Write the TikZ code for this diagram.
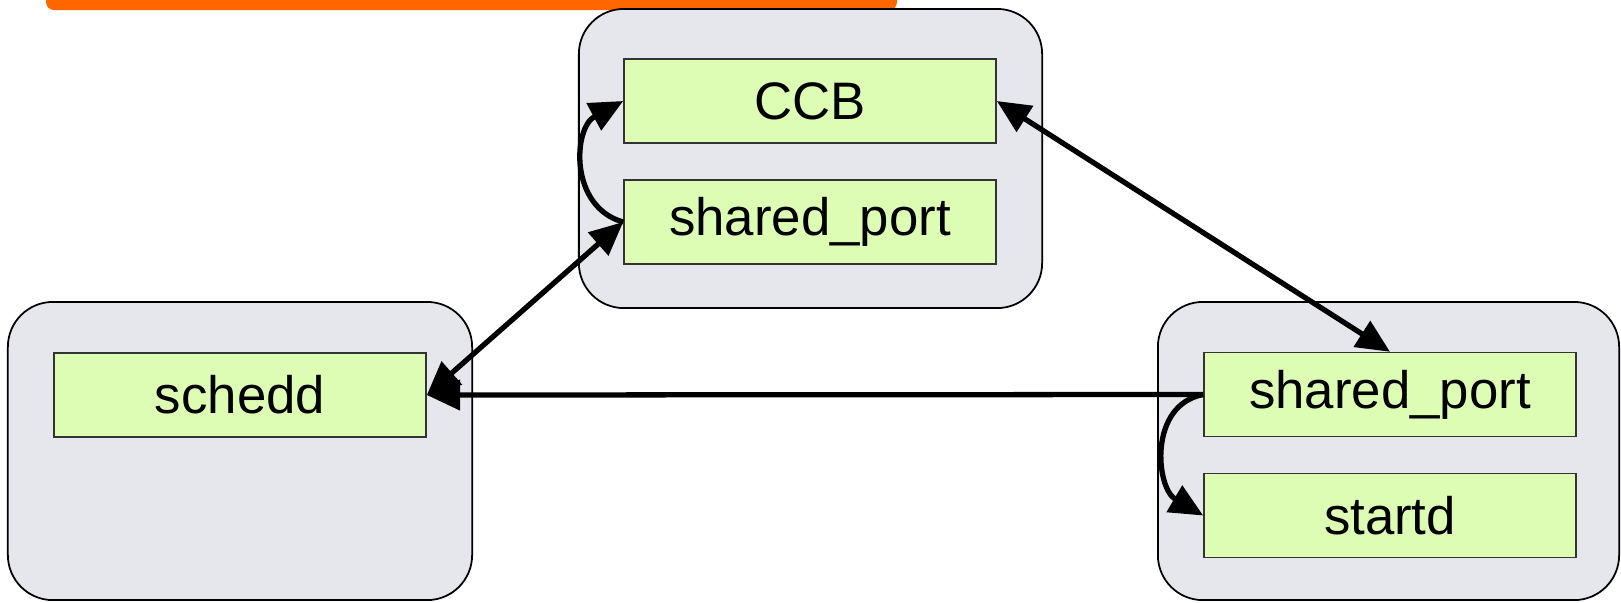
\documentclass[tikz,border=0pt]{standalone}
\usepackage{fontspec}
\setmainfont{Liberation Sans}
\usetikzlibrary{arrows.meta}
\definecolor{hostgray}{HTML}{E6E7EC}
\definecolor{daemongreen}{HTML}{DDFDB4}
\definecolor{banner}{HTML}{FF6600}
\begin{document}
\begin{tikzpicture}[x=0.01cm, y=-0.01cm,
  host/.style={draw=black, line width=0.5pt, fill=hostgray, rounded corners=0.45cm, inner sep=0pt},
  daemon/.style={draw=black!80, line width=0.4pt, fill=daemongreen, minimum width=3.72cm,
    minimum height=0.84cm, inner sep=0pt, font=\fontsize{15}{18}\selectfont},
  link/.style={line width=1.5pt, -{Triangle[length=9.5pt,width=8.5pt]}},
  both/.style={line width=1.5pt, {Triangle[length=9.5pt,width=8.5pt]}-{Triangle[length=9.5pt,width=8.5pt]}}]
\useasboundingbox (0,0) rectangle (1621,602);

% banner strip along the top edge
\fill[banner, rounded corners=0.08cm] (46,-30) rectangle (897,10);

% hosts
\node[host, minimum width=4.64cm, minimum height=2.98cm] (hleft) at (240,451) {};
\node[host, minimum width=4.63cm, minimum height=2.99cm] (htop) at (810.5,158.5) {};
\node[host, minimum width=4.61cm, minimum height=2.98cm] (hright) at (1388.5,451) {};

% daemons
\node[daemon] (ccb) at (810,101) {CCB};
\node[daemon] (tsp) at (810,222) {shared\_port};
\node[daemon] (schedd) at (240,395) {schedd};
\node[daemon] (rsp) at (1390,394.5) {shared\_port};
\node[daemon] (startd) at (1390,515.5) {startd};

% connections
\draw[link] (tsp.west) .. controls (569,207) and (573,128) .. (ccb.west);
\draw[both] (schedd.east) -- (tsp.west);
\draw[both] (ccb.east) -- (rsp.north);
\draw[link] (rsp.west) -- (schedd.east);
\draw[link] (rsp.west) .. controls (1148,405) and (1156,488) .. (startd.west);
\end{tikzpicture}
\end{document}
